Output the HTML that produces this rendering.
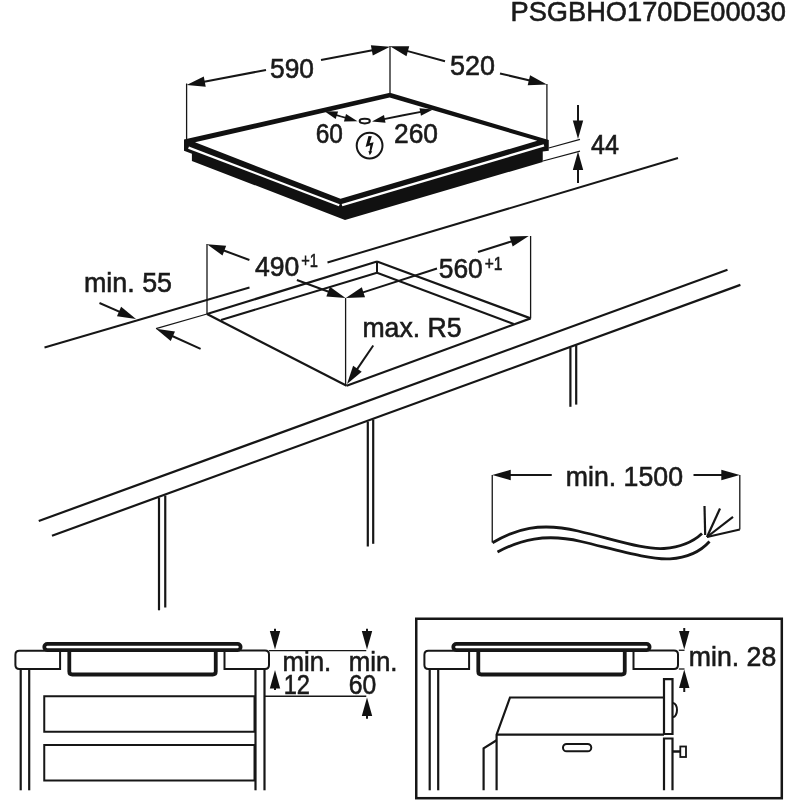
<!DOCTYPE html>
<html><head><meta charset="utf-8"><style>
html,body{margin:0;padding:0;background:#fff;width:800px;height:800px;overflow:hidden}
svg{display:block;will-change:transform}
text{font-family:"Liberation Sans",sans-serif;fill:#1a1a1a;stroke:#1a1a1a;stroke-width:0.6px}
</style></head><body>
<svg width="800" height="800" viewBox="0 0 800 800">
<g stroke="#161616" stroke-linecap="butt" fill="none">
<text x="510.5" y="20.6" font-size="28" textLength="275.5" lengthAdjust="spacingAndGlyphs" text-anchor="start">PSGBHO170DE00030</text>
<polygon points="184,139.5 390,92.8 548.75,140 548.75,150.75 542.75,151.5 542.75,162 345,220 191.9,160.9 191.9,153.75 184,150.8" fill="#111" stroke="none" stroke-width="0"/>
<polygon points="195,142.2 389.6,97.6 537.3,140.8 340.5,198.8" fill="#fff" stroke="none" stroke-width="0"/>
<polyline points="188.5,147.6 339.3,205.2" stroke-width="2.3" fill="none" stroke="#fff"/>
<polyline points="342,205.2 544,145.4" stroke-width="2.3" fill="none" stroke="#fff"/>
<line x1="186.6" y1="83.5" x2="186.6" y2="139.5" stroke-width="1.3"/>
<line x1="390" y1="46" x2="390" y2="95" stroke-width="1.3"/>
<line x1="546.9" y1="84" x2="546.9" y2="140" stroke-width="1.3"/>
<line x1="266" y1="70" x2="202.81" y2="81.94" stroke-width="2.0"/>
<polygon points="186.6,85 203.81,76.46 205.74,86.68" fill="#111" stroke="none" stroke-width="0"/>
<line x1="321" y1="60" x2="373.79" y2="49.9" stroke-width="2.0"/>
<polygon points="390,46.8 372.81,55.38 370.85,45.17" fill="#111" stroke="none" stroke-width="0"/>
<text x="270" y="77.5" font-size="27.5" textLength="44" lengthAdjust="spacingAndGlyphs" text-anchor="start">590</text>
<line x1="445" y1="61.25" x2="405.92" y2="50.63" stroke-width="2.0"/>
<polygon points="390,46.3 409.22,46.13 406.49,56.17" fill="#111" stroke="none" stroke-width="0"/>
<line x1="500" y1="73.5" x2="530.84" y2="80.73" stroke-width="2.0"/>
<polygon points="546.9,84.5 527.7,85.34 530.08,75.21" fill="#111" stroke="none" stroke-width="0"/>
<text x="450" y="75" font-size="27.5" textLength="45" lengthAdjust="spacingAndGlyphs" text-anchor="start">520</text>
<ellipse cx="364.75" cy="121.1" rx="5.1" ry="2.3" fill="none" stroke-width="2"/>
<line x1="341" y1="116.5" x2="346.92" y2="118.19" stroke-width="1.8"/>
<polygon points="357.5,121.2 343.93,121.39 346.07,113.89" fill="#111" stroke="none" stroke-width="0"/>
<line x1="341" y1="116.5" x2="334.97" y2="114.56" stroke-width="1.8"/>
<polygon points="324.5,111.2 338.07,111.46 335.68,118.89" fill="#111" stroke="none" stroke-width="0"/>
<line x1="402" y1="115.5" x2="382.79" y2="119.28" stroke-width="1.8"/>
<polygon points="372,121.4 384.0,115.06 385.51,122.72" fill="#111" stroke="none" stroke-width="0"/>
<line x1="402" y1="115.5" x2="422.19" y2="111.66" stroke-width="1.8"/>
<polygon points="433,109.6 420.96,115.86 419.5,108.2" fill="#111" stroke="none" stroke-width="0"/>
<text x="315.75" y="142.5" font-size="27" textLength="27.2" lengthAdjust="spacingAndGlyphs" text-anchor="start">60</text>
<text x="394" y="143.4" font-size="27.5" textLength="44" lengthAdjust="spacingAndGlyphs" text-anchor="start">260</text>
<circle cx="369.6" cy="145.6" r="12.9" fill="none" stroke-width="2"/>
<polygon points="368.5,136.1 371.85,136.25 369.6,143.2 373.6,142.2 371.3,151.3 372.2,151.6 369.75,155.2 368.4,151 369.5,151.2 370.3,145.3 365.6,146.9" fill="#111" stroke="none" stroke-width="0"/>
<line x1="548.75" y1="148" x2="580" y2="139.3" stroke-width="1.2"/>
<line x1="543" y1="161" x2="580" y2="151.2" stroke-width="1.2"/>
<line x1="578" y1="105" x2="578.0" y2="122.5" stroke-width="2.0"/>
<polygon points="578,139 572.8,120.5 583.2,120.5" fill="#111" stroke="none" stroke-width="0"/>
<line x1="578" y1="183" x2="578.0" y2="168.0" stroke-width="2.0"/>
<polygon points="578,151.5 583.2,170.0 572.8,170.0" fill="#111" stroke="none" stroke-width="0"/>
<text x="591" y="154.4" font-size="27.5" textLength="28" lengthAdjust="spacingAndGlyphs" text-anchor="start">44</text>
<line x1="44.5" y1="347.5" x2="249.5" y2="287.5" stroke-width="2"/>
<line x1="327.5" y1="262.5" x2="678" y2="158" stroke-width="2"/>
<line x1="38.75" y1="521" x2="727.5" y2="269.8" stroke-width="2.2"/>
<line x1="52" y1="535.75" x2="740.4" y2="284.9" stroke-width="2.2"/>
<line x1="159" y1="497.8" x2="159" y2="610.3" stroke-width="2.2"/>
<line x1="165.25" y1="495.5" x2="165.25" y2="607.5" stroke-width="2.2"/>
<line x1="367.8" y1="421.6" x2="367.8" y2="546.5" stroke-width="2.2"/>
<line x1="373.2" y1="419.5" x2="373.2" y2="543.8" stroke-width="2.2"/>
<line x1="570.4" y1="347.6" x2="570.4" y2="406.8" stroke-width="2.2"/>
<line x1="576.2" y1="345.2" x2="576.2" y2="404.6" stroke-width="2.2"/>
<line x1="207" y1="314" x2="377" y2="261.5" stroke-width="2.2"/>
<line x1="221" y1="320" x2="377" y2="272.75" stroke-width="2.0"/>
<line x1="377" y1="261.5" x2="377" y2="272.75" stroke-width="2.0"/>
<line x1="377" y1="261.5" x2="530.6" y2="318.4" stroke-width="2.2"/>
<line x1="377" y1="272.75" x2="513.75" y2="324" stroke-width="2.0"/>
<line x1="207" y1="314" x2="346.65" y2="385.75" stroke-width="2.2"/>
<line x1="346.65" y1="385.75" x2="530.6" y2="318.4" stroke-width="2.2"/>
<line x1="207" y1="244" x2="207" y2="314" stroke-width="1.3"/>
<line x1="156" y1="328.7" x2="207" y2="314" stroke-width="1.3"/>
<line x1="99.5" y1="303" x2="120.89" y2="312.38" stroke-width="2.0"/>
<polygon points="136,319 116.97,316.34 121.14,306.81" fill="#111" stroke="none" stroke-width="0"/>
<line x1="200.6" y1="348.8" x2="171.04" y2="335.48" stroke-width="2.0"/>
<polygon points="156,328.7 175.0,331.56 170.73,341.04" fill="#111" stroke="none" stroke-width="0"/>
<text x="84" y="292" font-size="27.5" textLength="88" lengthAdjust="spacingAndGlyphs" text-anchor="start">min. 55</text>
<line x1="249.4" y1="260" x2="222.46" y2="249.96" stroke-width="2.0"/>
<polygon points="207,244.2 226.15,245.79 222.52,255.53" fill="#111" stroke="none" stroke-width="0"/>
<line x1="296.9" y1="280" x2="330.03" y2="292.27" stroke-width="2.0"/>
<polygon points="345.5,298 326.35,296.45 329.96,286.7" fill="#111" stroke="none" stroke-width="0"/>
<text x="255" y="275.6" font-size="27.5" textLength="44.4" lengthAdjust="spacingAndGlyphs" text-anchor="start">490</text>
<text x="301.25" y="266.9" font-size="19" textLength="16.75" lengthAdjust="spacingAndGlyphs" text-anchor="start">+1</text>
<line x1="345.6" y1="298" x2="345.6" y2="385.75" stroke-width="1.3"/>
<line x1="437" y1="268.5" x2="361.5" y2="292.92" stroke-width="2.0"/>
<polygon points="345.8,298 361.8,287.36 365.0,297.25" fill="#111" stroke="none" stroke-width="0"/>
<line x1="478" y1="252" x2="513.01" y2="240.96" stroke-width="2.0"/>
<polygon points="528.75,236 512.67,246.52 509.54,236.6" fill="#111" stroke="none" stroke-width="0"/>
<line x1="530.6" y1="236" x2="530.6" y2="318.4" stroke-width="1.3"/>
<text x="438.75" y="278" font-size="27.5" textLength="44" lengthAdjust="spacingAndGlyphs" text-anchor="start">560</text>
<text x="484.7" y="269.7" font-size="19" textLength="17.8" lengthAdjust="spacingAndGlyphs" text-anchor="start">+1</text>
<line x1="373.25" y1="345.5" x2="356.3" y2="370.37" stroke-width="2.0"/>
<polygon points="347,384 353.13,365.79 361.72,371.64" fill="#111" stroke="none" stroke-width="0"/>
<text x="362.4" y="336.75" font-size="27.5" textLength="99.2" lengthAdjust="spacingAndGlyphs" text-anchor="start">max. R5</text>
<line x1="492.25" y1="475" x2="492.25" y2="542.5" stroke-width="1.3"/>
<line x1="551.75" y1="475" x2="508.75" y2="475.0" stroke-width="2.0"/>
<polygon points="492.25,475 510.75,469.8 510.75,480.2" fill="#111" stroke="none" stroke-width="0"/>
<line x1="693.5" y1="475" x2="723.3" y2="475.0" stroke-width="2.0"/>
<polygon points="739.8,475 721.3,480.2 721.3,469.8" fill="#111" stroke="none" stroke-width="0"/>
<line x1="739.8" y1="475" x2="739.8" y2="529.5" stroke-width="1.3"/>
<text x="565.75" y="485.5" font-size="27.5" textLength="117.25" lengthAdjust="spacingAndGlyphs" text-anchor="start">min. 1500</text>
<path d="M492.5,542.8 C515,529 540,522 578,531 S645,550 664,548.5 S694,541 702,533.5" fill="none" stroke-width="2.8"/>
<path d="M497.5,552 C520,540 545,533 581,541.5 S650,560 670,558.8 S701,551 709.5,541.5" fill="none" stroke-width="2.8"/>
<line x1="705.2" y1="535" x2="704.5" y2="506" stroke-width="2.2"/>
<line x1="707" y1="537" x2="720" y2="508.5" stroke-width="2.2"/>
<line x1="707" y1="537" x2="733" y2="516.8" stroke-width="2.2"/>
<line x1="707" y1="537" x2="739.8" y2="529.5" stroke-width="2.2"/>
<rect x="44.3" y="643.9" width="196.3" height="6.2" rx="3.1" fill="none" stroke-width="3.8"/>
<path d="M69.3,651 V671.5 Q69.3,674.5 72.3,674.5 H212.75 Q215.75,674.5 215.75,671.5 V651" fill="none" stroke-width="3.8"/>
<path d="M60.1,650.8 H19.4 Q15.4,650.8 15.4,654.8 V665.1 Q15.4,669.1 19.4,669.1 H60.1 Z" fill="none" stroke-width="2"/>
<line x1="20.7" y1="669.1" x2="20.7" y2="790.3" stroke-width="2.2"/>
<line x1="29.2" y1="669.1" x2="29.2" y2="790.3" stroke-width="2.2"/>
<path d="M224.5,650.6 H265 Q269,650.6 269,654.6 V665 Q269,669 265,669 H224.5 Z" fill="none" stroke-width="2"/>
<line x1="255.5" y1="669" x2="255.5" y2="790.3" stroke-width="2.2"/>
<line x1="264.5" y1="669" x2="264.5" y2="790.3" stroke-width="2.2"/>
<rect x="44.25" y="696.25" width="210.25" height="35.5" fill="none" stroke-width="2"/>
<rect x="44.25" y="745" width="210.25" height="35.5" fill="none" stroke-width="2"/>
<line x1="269" y1="650.6" x2="366.25" y2="650.6" stroke-width="1.3"/>
<line x1="264.5" y1="696.25" x2="366.25" y2="696.25" stroke-width="1.3"/>
<line x1="275" y1="628.75" x2="275.0" y2="633.0" stroke-width="2.0"/>
<polygon points="275,649.5 269.8,631.0 280.2,631.0" fill="#111" stroke="none" stroke-width="0"/>
<line x1="367" y1="628.75" x2="367.0" y2="633.0" stroke-width="2.0"/>
<polygon points="367,649.5 361.8,631.0 372.2,631.0" fill="#111" stroke="none" stroke-width="0"/>
<line x1="275" y1="690" x2="275.0" y2="686.5" stroke-width="2.0"/>
<polygon points="275,670 280.2,688.5 269.8,688.5" fill="#111" stroke="none" stroke-width="0"/>
<line x1="367" y1="718.75" x2="367.0" y2="714.0" stroke-width="2.0"/>
<polygon points="367,697.5 372.2,716.0 361.8,716.0" fill="#111" stroke="none" stroke-width="0"/>
<text x="282.5" y="671.25" font-size="27.5" textLength="48.75" lengthAdjust="spacingAndGlyphs" text-anchor="start">min.</text>
<text x="283.75" y="693.75" font-size="27.5" textLength="26.25" lengthAdjust="spacingAndGlyphs" text-anchor="start">12</text>
<text x="348.75" y="671.25" font-size="27.5" textLength="48.75" lengthAdjust="spacingAndGlyphs" text-anchor="start">min.</text>
<text x="348.75" y="693.75" font-size="27.5" textLength="27.5" lengthAdjust="spacingAndGlyphs" text-anchor="start">60</text>
<rect x="416.25" y="618.75" width="365.55" height="179.45" fill="none" stroke-width="2.5"/>
<rect x="453.3" y="643.9" width="196.3" height="6.2" rx="3.1" fill="none" stroke-width="3.8"/>
<path d="M478.3,651 V671.5 Q478.3,674.5 481.3,674.5 H621.75 Q624.75,674.5 624.75,671.5 V651" fill="none" stroke-width="3.8"/>
<path d="M469.1,650.8 H428.4 Q424.4,650.8 424.4,654.8 V665.1 Q424.4,669.1 428.4,669.1 H469.1 Z" fill="none" stroke-width="2"/>
<line x1="429.7" y1="669.1" x2="429.7" y2="790.3" stroke-width="2.2"/>
<line x1="438.2" y1="669.1" x2="438.2" y2="790.3" stroke-width="2.2"/>
<path d="M633.5,650.6 H674 Q678,650.6 678,654.6 V665 Q678,669 674,669 H633.5 Z" fill="none" stroke-width="2"/>
<polyline points="496.6,790.3 496.6,734.6 510,697.5 664,697.5" stroke-width="2.2" fill="none" />
<line x1="496.6" y1="734.6" x2="664" y2="734.6" stroke-width="2.2"/>
<polyline points="483.6,790.3 483.6,748.4 496.6,740.25" stroke-width="2.2" fill="none" />
<rect x="563" y="744" width="28.25" height="7.25" rx="3.6" fill="none" stroke-width="2"/>
<polyline points="664,696.5 664,679.1 672.5,679.1 672.5,734 664,734 664,696.5" stroke-width="2.2" fill="none" />
<polyline points="664,790.3 664,738.5 672.5,738.5 672.5,790.3" stroke-width="2.2" fill="none" />
<path d="M673,703 A4,7 0 0 1 673,717" fill="none" stroke-width="2"/>
<polyline points="673,751.5 680.3,751.5" stroke-width="2.5" fill="none" />
<rect x="680.3" y="746.5" width="5.7" height="10.5" fill="none" stroke-width="1.8"/>
<line x1="678.8" y1="650.25" x2="684.5" y2="650.25" stroke-width="1.3"/>
<line x1="678.8" y1="669" x2="684.5" y2="669" stroke-width="1.3"/>
<line x1="684.25" y1="628" x2="684.25" y2="632.9" stroke-width="2.0"/>
<polygon points="684.25,649.4 679.05,630.9 689.45,630.9" fill="#111" stroke="none" stroke-width="0"/>
<line x1="684.25" y1="692" x2="684.25" y2="686.1" stroke-width="2.0"/>
<polygon points="684.25,669.6 689.45,688.1 679.05,688.1" fill="#111" stroke="none" stroke-width="0"/>
<text x="688.75" y="666.25" font-size="27.5" textLength="87.5" lengthAdjust="spacingAndGlyphs" text-anchor="start">min. 28</text>
</g>
</svg>
</body></html>
